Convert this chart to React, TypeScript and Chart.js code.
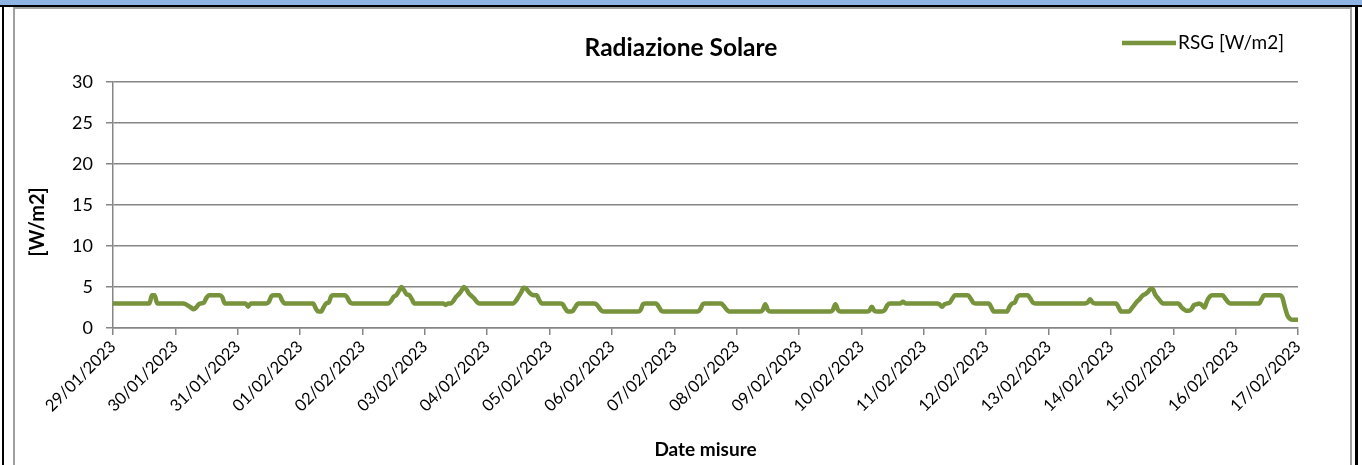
import React, { useEffect, useRef } from "react";
import { Chart, registerables } from "chart.js";

Chart.register(...registerables);

// ---- data ----
const chartTitle = "Radiazione Solare";
const seriesLabel = "RSG [W/m2]";
const yAxisTitle = "[W/m2]";
const xAxisTitle = "Date misure";

const dateLabels = [
  "29/01/2023", "30/01/2023", "31/01/2023", "01/02/2023", "02/02/2023",
  "03/02/2023", "04/02/2023", "05/02/2023", "06/02/2023", "07/02/2023",
  "08/02/2023", "09/02/2023", "10/02/2023", "11/02/2023", "12/02/2023",
  "13/02/2023", "14/02/2023", "15/02/2023", "16/02/2023", "17/02/2023",
];

const yMin = 0;
const yMax = 30;
const yStep = 5;

// hourly values of RSG [W/m2], one row per day (00:00 .. 23:00)
const rsgHourly = [
  /* 29/01 */ 3, 3, 3, 3, 3, 3, 3, 3, 3, 3, 3, 3, 3, 3, 3, 4, 4, 3, 3, 3, 3, 3, 3, 3,
  /* 30/01 */ 3, 3, 3, 3, 2.9, 2.7, 2.5, 2.3, 2.5, 2.9, 3, 3.1, 3.7, 4, 4, 4, 4, 4, 3.8, 3, 3, 3, 3, 3,
  /* 31/01 */ 3, 3, 3, 3, 2.6, 3, 3, 3, 3, 3, 3, 3, 3.2, 3.9, 4, 4, 4, 3.4, 3, 3, 3, 3, 3, 3,
  /* 01/02 */ 3, 3, 3, 3, 3, 3, 2.4, 2, 2, 2.5, 3, 3.1, 3.9, 4, 4, 4, 4, 4, 3.8, 3.2, 3, 3, 3, 3,
  /* 02/02 */ 3, 3, 3, 3, 3, 3, 3, 3, 3, 3, 3, 3.3, 3.8, 4, 4.5, 5, 4.6, 4.1, 4, 3.5, 3, 3, 3, 3,
  /* 03/02 */ 3, 3, 3, 3, 3, 3, 3, 3, 2.8, 3, 3, 3.3, 3.8, 4.1, 4.5, 5, 4.7, 4.2, 3.9, 3.6, 3.2, 3, 3, 3,
  /* 04/02 */ 3, 3, 3, 3, 3, 3, 3, 3, 3, 3, 3, 3.3, 3.8, 4.3, 4.9, 4.8, 4.4, 4.1, 4, 4, 3.4, 3, 3, 3,
  /* 05/02 */ 3, 3, 3, 3, 3, 2.9, 2.4, 2, 2, 2.1, 2.6, 3, 3, 3, 3, 3, 3, 3, 2.9, 2.5, 2.1, 2, 2, 2,
  /* 06/02 */ 2, 2, 2, 2, 2, 2, 2, 2, 2, 2, 2, 2.2, 2.9, 3, 3, 3, 3, 3, 2.6, 2.1, 2, 2, 2, 2,
  /* 07/02 */ 2, 2, 2, 2, 2, 2, 2, 2, 2, 2, 2.3, 2.9, 3, 3, 3, 3, 3, 3, 3, 2.7, 2.3, 2, 2, 2,
  /* 08/02 */ 2, 2, 2, 2, 2, 2, 2, 2, 2, 2, 2.2, 2.9, 2.2, 2, 2, 2, 2, 2, 2, 2, 2, 2, 2, 2,
  /* 09/02 */ 2, 2, 2, 2, 2, 2, 2, 2, 2, 2, 2, 2, 2, 2.2, 2.9, 2.2, 2, 2, 2, 2, 2, 2, 2, 2,
  /* 10/02 */ 2, 2, 2, 2.1, 2.6, 2.1, 2, 2, 2, 2.2, 2.8, 3, 3, 3, 3, 3, 3.2, 3, 3, 3, 3, 3, 3, 3,
  /* 11/02 */ 3, 3, 3, 3, 3, 3, 2.9, 2.6, 2.9, 3, 3.1, 3.6, 4, 4, 4, 4, 4, 4, 3.6, 3.1, 3, 3, 3, 3,
  /* 12/02 */ 3, 3, 2.5, 2, 2, 2, 2, 2, 2, 2.6, 3, 3.1, 3.8, 4, 4, 4, 4, 3.6, 3.1, 3, 3, 3, 3, 3,
  /* 13/02 */ 3, 3, 3, 3, 3, 3, 3, 3, 3, 3, 3, 3, 3, 3, 3, 3.1, 3.5, 3.1, 3, 3, 3, 3, 3, 3,
  /* 14/02 */ 3, 3, 3, 2.5, 2, 2, 2, 2, 2.4, 2.8, 3.2, 3.5, 3.9, 4.1, 4.3, 4.7, 4.8, 4.1, 3.7, 3.3, 3, 3, 3, 3,
  /* 15/02 */ 3, 3, 3, 2.6, 2.3, 2.1, 2.1, 2.3, 2.8, 2.9, 3, 2.8, 2.5, 3.3, 3.8, 4, 4, 4, 4, 4, 3.6, 3.2, 3, 3,
  /* 16/02 */ 3, 3, 3, 3, 3, 3, 3, 3, 3, 3, 3.5, 4, 4, 4, 4, 4, 4, 4, 3.7, 2.5, 1.5, 1.1, 1, 1,
  /* 17/02 */ 1,
];
const samplesPerDay = 24;

// ---- styles ----
const FONT = "Lato, 'Open Sans', sans-serif";
const lineColor = "#77933C";
const gridColor = "#868686";

const overlayPlugin = {
  id: "overlayTexts",
  afterDraw(chart: any) {
    const ctx = chart.ctx as CanvasRenderingContext2D;
    const area = chart.chartArea;
    // y-axis title
    ctx.save();
    ctx.translate(38, (area.top + area.bottom) / 2 + 17);
    ctx.rotate(-Math.PI / 2);
    ctx.font = `bold 20px ${FONT}`;
    ctx.fillStyle = "#000";
    ctx.textAlign = "center";
    ctx.textBaseline = "middle";
    ctx.fillText(yAxisTitle, 0, 0);
    ctx.restore();
    // legend (top right)
    const ds = chart.data.datasets[0];
    ctx.save();
    ctx.strokeStyle = ds.borderColor;
    ctx.lineWidth = 4.5;
    ctx.beginPath();
    ctx.moveTo(1122, 43);
    ctx.lineTo(1176, 43);
    ctx.stroke();
    ctx.font = `19px ${FONT}`;
    ctx.fillStyle = "#000";
    ctx.textAlign = "left";
    ctx.textBaseline = "middle";
    ctx.fillText(ds.label, 1178, 43);
    ctx.restore();
  },
};

export default function App() {
  const canvasRef = useRef<HTMLCanvasElement | null>(null);

  useEffect(() => {
    if (!canvasRef.current) return;
    const points = rsgHourly.map((v, i) => ({ x: i / samplesPerDay, y: v }));
    const chart = new Chart(canvasRef.current, {
      type: "line",
      data: {
        datasets: [
          {
            label: seriesLabel,
            data: points,
            borderColor: lineColor,
            backgroundColor: lineColor,
            borderWidth: 4.5,
            pointRadius: 0,
            pointHoverRadius: 0,
            fill: false,
            cubicInterpolationMode: "monotone",
            borderJoinStyle: "round",
            borderCapStyle: "round",
          },
        ],
      },
      options: {
        animation: false,
        responsive: false,
        devicePixelRatio: 1,
        events: [],
        layout: { padding: { top: 10, left: 64, right: 64, bottom: 4 } },
        plugins: {
          legend: { display: false },
          tooltip: { enabled: false },
          title: {
            display: true,
            text: chartTitle,
            color: "#000",
            font: { family: FONT, size: 24.5, weight: "bold", lineHeight: 1.2 },
            padding: { top: 23, bottom: 19.6 },
          },
        },
        scales: {
          x: {
            type: "linear",
            min: 0,
            max: dateLabels.length - 1,
            afterFit: (scale: any) => {
              scale.height = 133;
            },
            ticks: {
              stepSize: 1,
              autoSkip: false,
              maxRotation: 45,
              minRotation: 45,
              color: "#000",
              padding: 2,
              font: { family: FONT, size: 16.5 },
              callback: (value: any) => dateLabels[Math.round(Number(value))] ?? "",
            },
            grid: {
              display: true,
              drawOnChartArea: false,
              drawTicks: true,
              tickLength: 7,
              color: gridColor,
              lineWidth: 1.5,
            },
            border: { display: true, color: gridColor, width: 1.5 },
            title: {
              display: true,
              text: xAxisTitle,
              color: "#000",
              font: { family: FONT, size: 19, weight: "bold", lineHeight: 1.2 },
              padding: { top: 0, bottom: 0 },
            },
          },
          y: {
            min: yMin,
            max: yMax,
            afterFit: (scale: any) => {
              scale.width = 49;
            },
            ticks: {
              stepSize: yStep,
              color: "#000",
              padding: 13,
              font: { family: FONT, size: 18 },
            },
            grid: {
              color: gridColor,
              lineWidth: 1.5,
              drawTicks: true,
              tickLength: 7,
            },
            border: { display: true, color: gridColor, width: 1.5 },
          },
        },
      },
      plugins: [overlayPlugin],
    });
    return () => chart.destroy();
  }, []);

  return (
    <div
      style={{
        position: "fixed",
        left: 0,
        top: 0,
        width: 1362,
        height: 465,
        background: "#fff",
        overflow: "hidden",
      }}
    >
      <div style={{ position: "absolute", left: 0, top: 0, width: 1362, height: 6, background: "#8DB4E2" }} />
      <div style={{ position: "absolute", left: 0, top: 5, width: 1362, height: 2, background: "#000" }} />
      <div style={{ position: "absolute", left: 2, top: 5, width: 2, height: 470, background: "#000" }} />
      <div style={{ position: "absolute", left: 1355, top: 5, width: 3, height: 470, background: "#000" }} />
      <div
        style={{
          position: "absolute",
          left: 13,
          top: 7,
          width: 1335,
          height: 470,
          border: "2px solid #A0A0A0",
          borderBottom: "none",
        }}
      />
      <canvas
        ref={canvasRef}
        width={1362}
        height={465}
        style={{ position: "absolute", left: 0, top: 0, width: 1362, height: 465 }}
      />
    </div>
  );
}
